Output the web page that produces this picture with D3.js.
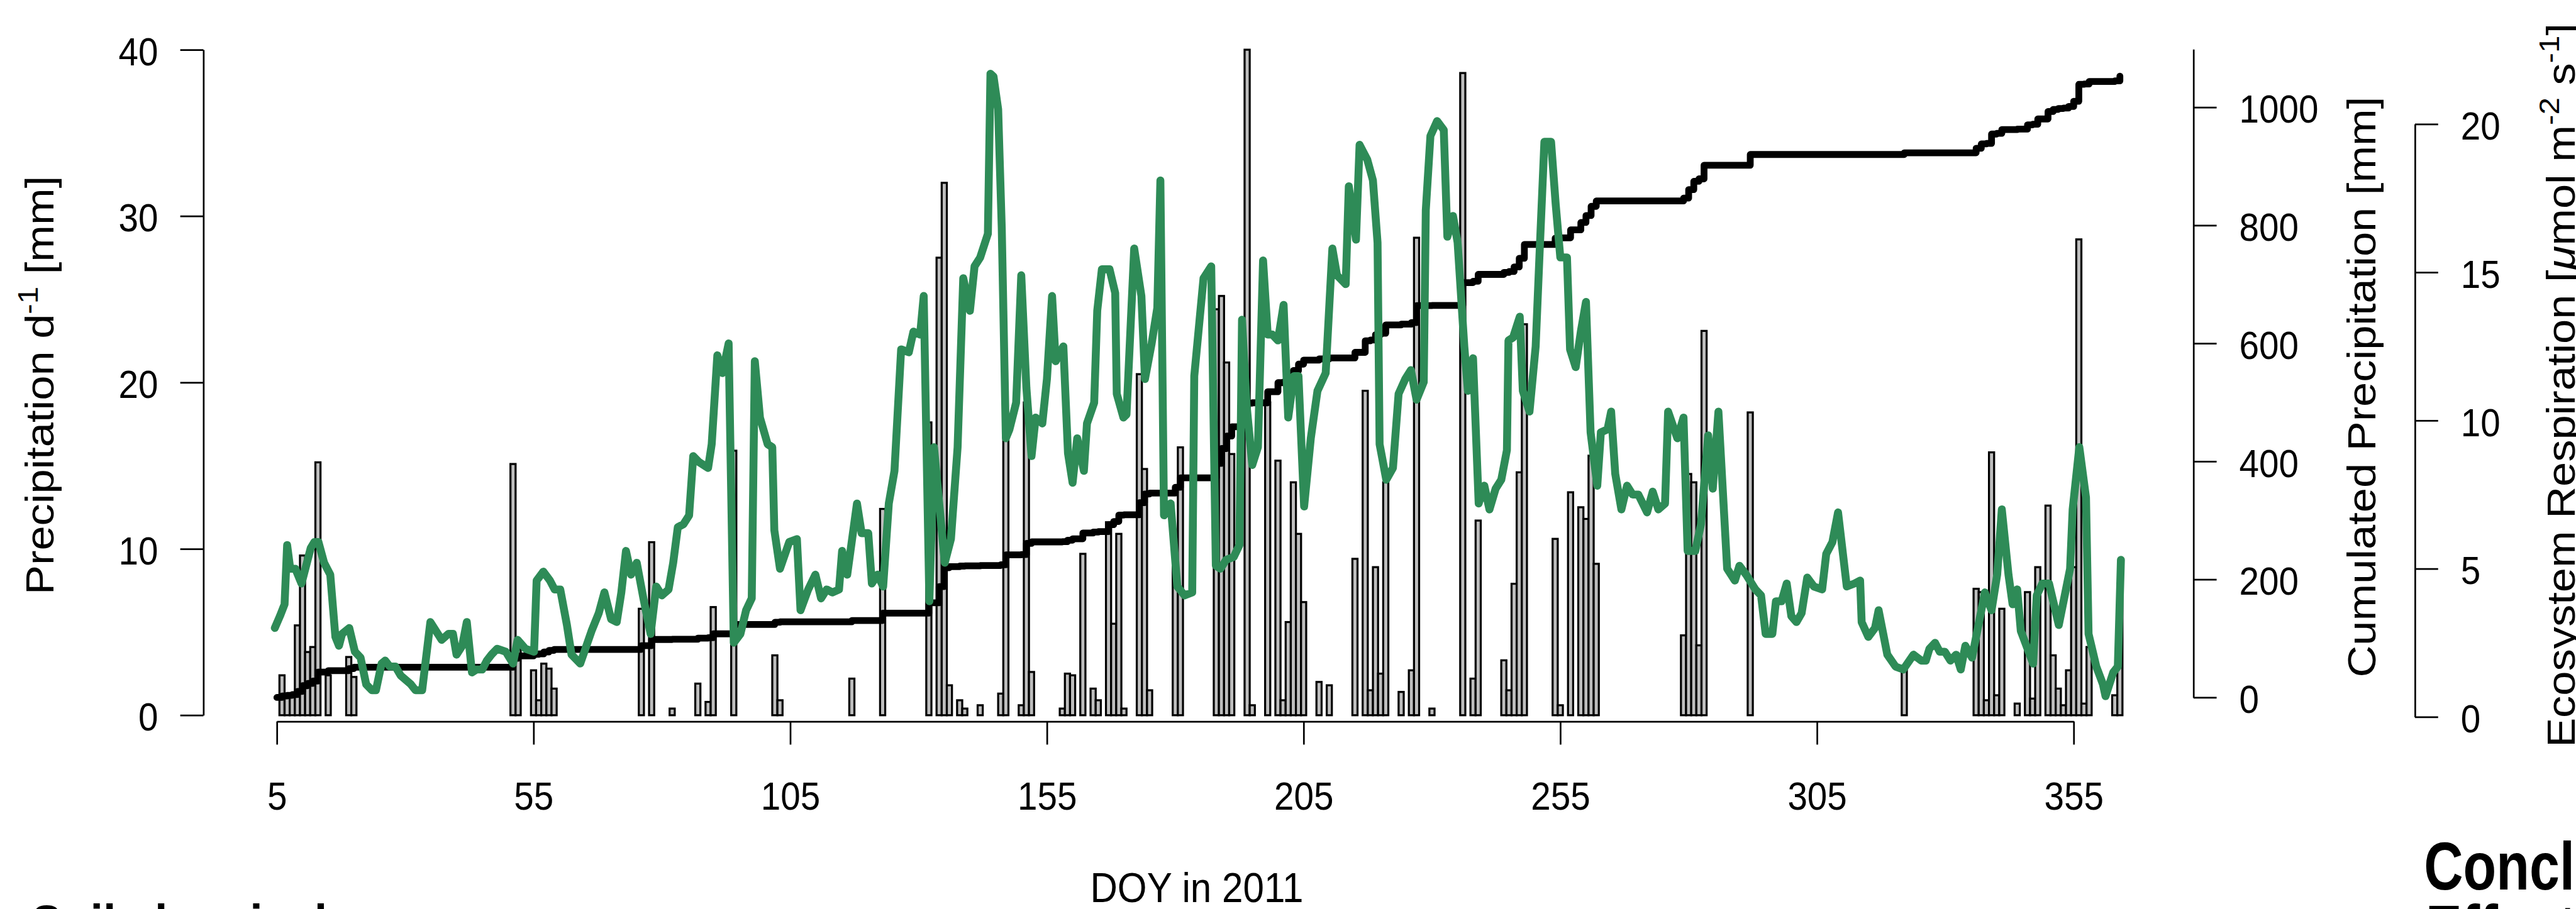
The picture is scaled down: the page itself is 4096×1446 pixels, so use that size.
<!DOCTYPE html>
<html>
<head>
<meta charset="utf-8">
<script src="https://cdn.jsdelivr.net/npm/d3@7"></script>
<style>
  html, body { margin: 0; padding: 0; background: #fff; overflow: hidden; }
  svg { display: block; }
  text { font-family: "Liberation Sans", Arial, Helvetica, sans-serif; fill: #000; }
</style>
</head>
<body>
<div class="container"></div>
<script>

// daily precipitation, day of year and mm
const precipDoy = [
    6, 7, 8, 9, 10, 11, 12, 13, 15, 19, 20,
    51, 52, 55, 56, 57, 58, 59,
    76, 78, 82, 87, 89, 90, 94,
    102, 103, 117, 123, 132, 134, 135, 136, 138, 139,
    142, 146, 147, 150, 151, 152, 158, 159, 160, 162, 164, 165, 167, 168, 169, 170, 173, 174, 175, 180, 181,
    188, 189, 190, 191, 194, 195, 198, 200, 201, 202, 203, 204, 205, 208, 210, 215, 217, 218, 219, 220, 221, 224, 226, 227, 230,
    236, 238, 239, 244, 245, 246, 247, 248, 254, 255, 257, 259, 260, 261, 262,
    279, 280, 281, 282, 283,
    292, 322,
    336, 337, 338, 339, 340, 341, 344, 346, 347, 348, 350, 351, 352, 353, 354, 355, 356, 357, 358, 363, 364
];
const precipMm = [
    2.4, 1.2, 1.3, 5.4, 9.6, 3.8, 4.1, 15.2, 2.4, 3.5, 2.3,
    15.1, 4.0, 2.7, 0.9, 3.1, 2.8, 1.6,
    6.4, 10.4, 0.4, 1.9, 0.8, 6.5, 15.9,
    3.6, 0.9, 2.2, 12.4, 17.6, 27.5, 32.0, 1.8, 0.9, 0.4,
    0.6, 1.3, 16.7, 0.6, 18.8, 2.6, 0.4, 2.5, 2.4, 9.7, 1.6, 0.9, 11.6, 5.5, 10.9, 0.4, 20.5, 14.8, 1.5, 9.8, 16.1,
    24.4, 25.2, 21.2, 15.7, 40.0, 0.6, 18.8, 15.3, 0.9, 5.6, 14.0, 10.9, 6.8, 2.0, 1.8, 9.4, 19.5, 1.5, 8.9, 2.5, 14.0, 1.4, 2.7, 28.7, 0.4,
    38.6, 2.2, 11.7, 3.3, 1.5, 7.9, 14.6, 23.5, 10.6, 0.6, 13.4, 12.5, 11.8, 15.6, 9.1,
    4.8, 14.5, 14.0, 4.2, 23.1,
    18.2, 2.9,
    7.6, 7.4, 0.9, 15.8, 1.2, 6.4, 0.7, 7.4, 1.0, 8.9, 12.6, 3.6, 1.6, 0.6, 2.7, 8.9, 28.6, 0.7, 4.1, 1.2, 7.9
];

// ecosystem respiration, vertices of the green line (10 per row in both arrays)
const respDoy = [
    4.6, 5.6, 6.5, 7.0, 7.6, 8.6, 9.8, 11.6, 12.3, 13.1,
    14.2, 15.4, 16.4, 17.1, 17.7, 19.1, 20.2, 21.3, 22.4, 23.5,
    24.3, 25.4, 26.1, 27.0, 28.1, 29.1, 31.1, 32.0, 33.3, 34.9,
    37.1, 38.4, 39.3, 40.0, 41.1, 42.0, 43.0, 43.9, 45.0, 45.9,
    46.8, 47.9, 49.6, 51.0, 51.9, 53.4, 55.1, 55.6, 56.9, 58.2,
    59.1, 60.2, 61.5, 62.4, 64.1, 66.3, 67.7, 68.8, 70.1, 71.2,
    72.1, 73.0, 74.0, 75.1, 76.4, 77.8, 78.9, 80.0, 81.3, 82.2,
    83.1, 84.2, 85.3, 86.1, 87.2, 89.0, 89.7, 90.8, 91.8, 93.0,
    94.0, 95.3, 96.4, 97.5, 98.1, 99.1, 100.6, 101.5, 101.9, 103.0,
    104.8, 106.3, 107.0, 108.5, 109.9, 111.0, 112.1, 113.2, 114.5, 115.1,
    116.1, 118.0, 118.9, 120.2, 120.9, 122.0, 123.1, 124.2, 125.3, 126.6,
    128.1, 129.0, 130.3, 131.0, 132.1, 133.0, 135.1, 136.3, 137.6, 138.7,
    140.0, 140.9, 142.0, 143.5, 144.0, 144.6, 145.5, 146.2, 147.0, 147.7,
    149.0, 150.0, 151.0, 152.0, 152.8, 154.1, 155.0, 156.0, 156.7, 158.2,
    159.1, 160.0, 160.9, 162.2, 162.8, 164.2, 164.8, 165.7, 167.2, 168.3,
    168.6, 169.9, 170.5, 172.0, 173.4, 174.1, 175.4, 176.5, 177.1, 177.8,
    179.1, 180.4, 181.8, 183.3, 183.7, 185.5, 187.0, 187.9, 188.8, 189.9,
    191.4, 192.5, 193.0, 193.9, 195.0, 196.1, 197.1, 198.0, 198.9, 200.0,
    201.1, 202.0, 203.1, 204.0, 205.1, 206.4, 207.7, 209.3, 210.6, 211.5,
    213.2, 213.8, 215.2, 215.9, 217.4, 218.5, 219.4, 219.8, 221.1, 222.4,
    223.5, 224.8, 225.9, 227.0, 228.4, 228.8, 229.7, 231.0, 232.3, 233.0,
    234.1, 235.0, 236.3, 237.0, 238.0, 239.1, 240.2, 241.2, 242.4, 243.5,
    244.6, 244.9, 245.8, 247.1, 247.7, 249.0, 250.2, 251.0, 251.9, 253.2,
    254.1, 255.0, 256.3, 256.9, 258.0, 259.0, 260.0, 260.9, 262.2, 262.9,
    264.2, 264.9, 265.7, 266.9, 268.0, 269.1, 270.2, 271.9, 273.0, 274.1,
    275.4, 276.0, 277.8, 279.0, 279.8, 281.3, 282.4, 283.8, 284.7, 285.8,
    287.5, 289.0, 289.9, 291.2, 293.0, 294.1, 295.0, 296.3, 297.0, 298.1,
    299.1, 300.0, 301.0, 302.0, 303.1, 304.4, 306.0, 306.8, 308.0, 309.1,
    310.8, 312.3, 313.4, 313.7, 315.0, 316.3, 317.0, 318.7, 320.3, 321.8,
    323.8, 325.3, 326.2, 326.9, 328.0, 328.9, 329.9, 331.0, 332.1, 333.0,
    333.9, 335.2, 337.7, 339.0, 340.1, 341.0, 342.3, 343.1, 344.0, 344.7,
    347.1, 347.8, 348.9, 350.2, 352.1, 354.3, 354.8, 356.1, 357.4, 357.9,
    359.4, 360.7, 361.2, 362.7, 363.6, 364.2
];
const respValue = [
    3.0, 3.4, 3.8, 5.8, 5.0, 5.0, 4.5, 5.7, 5.9, 5.9,
    5.2, 4.8, 2.7, 2.4, 2.8, 3.0, 2.2, 2.0, 1.1, 0.9,
    0.9, 1.8, 1.9, 1.7, 1.7, 1.4, 1.1, 0.9, 0.9, 3.2,
    2.6, 2.8, 2.8, 2.1, 2.4, 3.2, 1.5, 1.6, 1.6, 1.9,
    2.1, 2.3, 2.2, 1.8, 2.6, 2.3, 2.2, 4.6, 4.9, 4.6,
    4.3, 4.3, 3.1, 2.1, 1.8, 2.9, 3.5, 4.2, 3.3, 3.2,
    4.2, 5.6, 4.8, 5.2, 4.0, 2.8, 4.4, 4.1, 4.3, 5.2,
    6.4, 6.5, 6.8, 8.8, 8.6, 8.4, 9.2, 12.2, 11.6, 12.6,
    2.5, 2.8, 3.6, 4.0, 12.0, 10.1, 9.2, 9.1, 6.3, 5.0,
    5.9, 6.0, 3.6, 4.3, 4.8, 4.0, 4.3, 4.2, 4.3, 5.6,
    4.8, 7.2, 6.2, 6.2, 4.5, 4.8, 4.4, 7.2, 8.3, 12.4,
    12.3, 13.0, 12.9, 14.2, 3.9, 9.1, 5.2, 6.0, 9.1, 14.8,
    13.7, 15.2, 15.5, 16.3, 21.7, 21.6, 20.5, 16.5, 9.4, 9.7,
    10.6, 14.9, 11.1, 8.8, 10.1, 9.9, 11.4, 14.2, 12.0, 12.5,
    8.9, 7.9, 9.4, 8.3, 9.9, 10.6, 13.7, 15.1, 15.1, 14.3,
    10.9, 10.1, 10.2, 15.8, 14.2, 11.4, 12.6, 13.8, 18.1, 6.8,
    7.2, 4.4, 4.1, 4.2, 11.5, 14.8, 15.2, 5.1, 5.0, 5.3,
    5.4, 5.8, 13.4, 10.5, 8.5, 9.1, 15.4, 12.9, 12.9, 12.7,
    13.9, 10.1, 11.5, 11.5, 7.1, 9.4, 11.0, 11.6, 15.8, 14.9,
    14.6, 17.9, 16.1, 19.3, 18.8, 18.1, 16.0, 9.2, 8.0, 8.4,
    10.9, 11.4, 11.7, 10.7, 11.3, 17.1, 19.6, 20.1, 19.8, 16.2,
    16.9, 16.0, 12.5, 11.0, 12.1, 7.2, 7.8, 7.0, 7.7, 8.0,
    9.0, 12.7, 12.8, 13.5, 11.0, 10.3, 12.5, 15.8, 19.4, 19.4,
    17.3, 15.5, 15.5, 12.4, 11.8, 13.0, 14.0, 9.6, 7.8, 9.6,
    9.7, 10.3, 8.2, 7.0, 7.8, 7.5, 7.5, 6.9, 7.6, 7.0,
    7.2, 10.3, 9.4, 10.1, 5.6, 5.6, 6.5, 9.5, 7.7, 10.3,
    5.0, 4.6, 5.1, 4.8, 4.3, 4.1, 2.8, 2.8, 3.9, 3.9,
    4.5, 3.4, 3.2, 3.5, 4.7, 4.4, 4.3, 5.5, 5.9, 6.9,
    4.4, 4.5, 4.6, 3.2, 2.7, 3.0, 3.6, 2.1, 1.7, 1.6,
    2.1, 1.9, 1.9, 2.3, 2.5, 2.2, 2.2, 1.9, 2.1, 1.6,
    2.4, 2.0, 4.2, 3.6, 4.8, 7.0, 4.8, 3.8, 4.3, 2.9,
    1.8, 4.1, 4.5, 4.5, 3.1, 5.0, 7.0, 9.1, 7.4, 2.8,
    1.7, 1.1, 0.7, 1.5, 1.7, 5.3
];

// tick values of the four axes
const doyTicks = [5, 55, 105, 155, 205, 255, 305, 355];
const precipTicks = [0, 10, 20, 30, 40];
const cumTicks = [0, 200, 400, 600, 800, 1000];
const respTicks = [0, 5, 10, 15, 20];


const container = d3.select(".container");

// drawing happens on the reference pixel grid, the viewBox shrinks it to the window
const fullWidth = 4559,
    fullHeight = 1609;

// the R figure sits vertically stretched in the poster, so its text is too
const stretch = 1.12;

const svg = container
    .append("svg")
    .attr("width", 4096)
    .attr("height", 1446)
    .attr("viewBox", `0 0 ${fullWidth} ${fullHeight}`)
    .attr("preserveAspectRatio", "none");

// SCALES
const xScale = d3
    .scaleLinear()
    .domain([5, 355])
    .range([490, 3670]);

const precipScale = d3
    .scaleLinear()
    .domain([0, 40])
    .range([1266, 88]);

// axis line of the cumulated scale runs on above the 1000 tick
const cumScale = d3
    .scaleLinear()
    .domain([0, 1098.6])
    .range([1234.5, 87]);

const respScale = d3
    .scaleLinear()
    .domain([0, 20])
    .range([1269, 219.6]);


// BARS
svg
    .append("g")
    .selectAll("rect")
    .data(d3.zip(precipDoy, precipMm))
    .join("rect")
    .attr("x", d => xScale(d[0] - 0.5))
    .attr("width", xScale(1) - xScale(0))
    .attr("y", d => precipScale(d[1]))
    .attr("height", d => precipScale(0) - precipScale(d[1]))
    .attr("fill", "#bebebe")
    .attr("stroke", "#000")
    .attr("stroke-width", 3.6);

// CUMULATED PRECIPITATION, running total of the bars drawn as steps
const cumValues = Array.from(d3.cumsum(precipMm));
const cumPoints = [[5, 0]]
    .concat(precipDoy.map((d, i) => [d, cumValues[i]]))
    .concat([[364, cumValues[cumValues.length - 1]]]);

svg
    .append("path")
    .datum(cumPoints)
    .attr("d", d3.line()
        .x(d => xScale(d[0]))
        .y(d => cumScale(d[1]))
        .curve(d3.curveStepAfter))
    .attr("fill", "none")
    .attr("stroke", "#000")
    .attr("stroke-width", 12)
    .attr("stroke-linecap", "round")
    .attr("stroke-linejoin", "round");

// ECOSYSTEM RESPIRATION
svg
    .append("path")
    .datum(d3.zip(respDoy, respValue))
    .attr("d", d3.line()
        .x(d => xScale(d[0]))
        .y(d => respScale(d[1])))
    .attr("fill", "none")
    .attr("stroke", "#2e8b57")
    .attr("stroke-width", 14)
    .attr("stroke-linecap", "round")
    .attr("stroke-linejoin", "round");


// AXES
const plainNumber = d3.format("d");

function styleAxis(g) {
    g.attr("font-size", null).attr("font-family", null);
    g.selectAll("path, line").attr("stroke", "#000").attr("stroke-width", 3);
    g.selectAll("text")
        .attr("font-size", 63)
        .attr("fill", "#000")
        .attr("dy", null)
        .attr("transform", `scale(1, ${stretch})`);
}

svg
    .append("g")
    .attr("transform", "translate(360, 0)")
    .call(d3.axisLeft(precipScale).tickValues(precipTicks).tickFormat(plainNumber)
        .tickSize(41).tickSizeOuter(0).tickPadding(39))
    .call(styleAxis)
    .selectAll("text")
    .attr("y", 24);

svg
    .append("g")
    .attr("transform", "translate(0, 1277)")
    .call(d3.axisBottom(xScale).tickValues(doyTicks).tickFormat(plainNumber)
        .tickSize(41).tickSizeOuter(0))
    .call(styleAxis)
    .selectAll("text")
    .attr("y", 139);

svg
    .append("g")
    .attr("transform", "translate(3882, 0)")
    .call(d3.axisRight(cumScale).tickValues(cumTicks).tickFormat(plainNumber)
        .tickSize(41).tickSizeOuter(0).tickPadding(40))
    .call(styleAxis)
    .selectAll("text")
    .attr("y", 24);

svg
    .append("g")
    .attr("transform", "translate(4274, 0)")
    .call(d3.axisRight(respScale).tickValues(respTicks).tickFormat(plainNumber)
        .tickSize(41).tickSizeOuter(0).tickPadding(40))
    .call(styleAxis)
    .selectAll("text")
    .attr("y", 24);


// AXIS TITLES
function verticalTitle(x, y) {
    return svg
        .append("text")
        .attr("transform", `translate(${x}, ${y}) scale(1, ${stretch}) rotate(-90)`)
        .attr("text-anchor", "middle")
        .attr("font-size", 70);
}

const precipTitle = verticalTitle(95, 682);
precipTitle.append("tspan").text("Precipitation d");
precipTitle.append("tspan").attr("dy", -28).attr("font-size", 49).text("-1");
precipTitle.append("tspan").attr("dy", 28).text(" [mm]");

verticalTitle(4204, 685).text("Cumulated Precipitation [mm]");

const respTitle = verticalTitle(4557, 682);
respTitle.append("tspan").text("Ecosystem Respiration [");
respTitle.append("tspan").attr("font-style", "italic").text("\u03bc");
respTitle.append("tspan").text("mol m");
respTitle.append("tspan").attr("dy", -28).attr("font-size", 49).text("-2");
respTitle.append("tspan").attr("dy", 28).text(" s");
respTitle.append("tspan").attr("dy", -28).attr("font-size", 49).text("-1");
respTitle.append("tspan").attr("dy", 28).text("]");

svg
    .append("text")
    .attr("transform", `translate(2118, 1597) scale(1, ${stretch})`)
    .attr("text-anchor", "middle")
    .attr("font-size", 67)
    .text("DOY in 2011");


// neighbouring poster headings, cut by the bottom edge
svg
    .append("text")
    .attr("transform", `translate(55, 1667) scale(1, ${stretch})`)
    .attr("font-size", 82)
    .attr("font-weight", "bold")
    .text("Soil chemical");

svg
    .append("text")
    .attr("transform", "translate(4290, 1575) scale(1, 1.25)")
    .attr("font-size", 96)
    .attr("font-weight", "bold")
    .text("Conclusions");

svg
    .append("text")
    .attr("transform", "translate(4293, 1686) scale(1, 1.25)")
    .attr("font-size", 96)
    .attr("font-weight", "bold")
    .text("Effects of");

</script>
</body>
</html>
